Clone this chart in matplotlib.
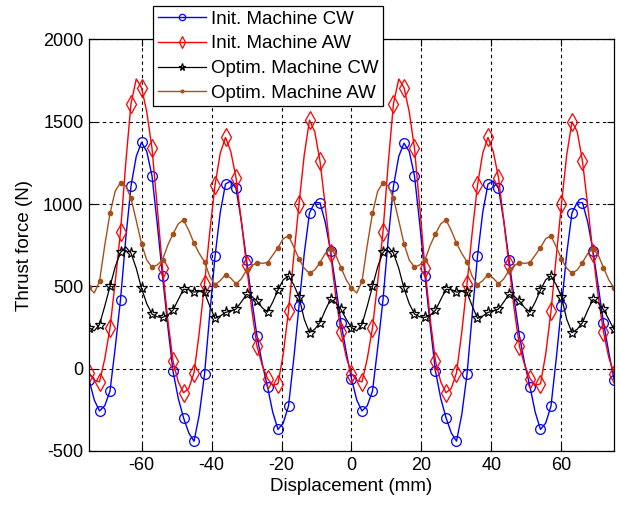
import numpy as np
import matplotlib.pyplot as plt

plt.rcParams['font.family'] = ['Liberation Sans', 'DejaVu Sans']
plt.rcParams['axes.unicode_minus'] = False

# displacement grid (mm); markers sit on every second sample (3 mm pitch)
displacement = np.linspace(-75, 75, 101)

init_cw = [
    -66, -190, -257, -225, -136, 130, 419, 790, 1110, 1290,
    1375, 1320, 1171, 880, 565, 260, -15, -180, -298, -390,
    -441, -280, -35, 330, 682, 950, 1122, 1140, 1096, 900,
    662, 420, 197, 30, -110, -265, -369, -330, -227, 60,
    379, 700, 947, 1010, 1008, 890, 717, 500, 280, 100,
    -61, -190, -257, -225, -136, 130, 419, 790, 1110, 1290,
    1370, 1320, 1171, 880, 565, 260, -15, -180, -298, -390,
    -440, -280, -35, 330, 682, 950, 1122, 1140, 1096, 900,
    662, 420, 197, 30, -110, -265, -369, -330, -227, 60,
    379, 700, 947, 1010, 1008, 890, 717, 500, 280, 100,
    -66,
]

init_aw = [
    -25, -70, -80, 60, 248, 530, 833, 1250, 1611, 1760,
    1708, 1560, 1338, 980, 611, 300, 46, -80, -146, -120,
    -25, 220, 514, 830, 1115, 1310, 1405, 1320, 1161, 900,
    631, 360, 135, 20, -60, -100, -92, 90, 350, 680,
    1001, 1300, 1510, 1440, 1260, 990, 700, 440, 223, 70,
    -30, -70, -80, 60, 248, 530, 833, 1250, 1611, 1760,
    1708, 1560, 1338, 980, 611, 300, 46, -80, -146, -120,
    -25, 220, 514, 830, 1115, 1310, 1405, 1320, 1161, 900,
    631, 360, 135, 20, -60, -100, -92, 90, 350, 680,
    1001, 1300, 1500, 1440, 1260, 990, 700, 440, 223, 70,
    -30,
]

optim_cw = [
    248, 230, 268, 380, 500, 620, 706, 740, 702, 610,
    488, 395, 332, 315, 312, 325, 355, 420, 482, 480,
    465, 470, 463, 380, 306, 320, 342, 350, 362, 405,
    451, 440, 410, 370, 344, 405, 478, 540, 564, 510,
    436, 300, 219, 240, 280, 355, 421, 400, 360, 300,
    250, 230, 268, 380, 500, 620, 706, 740, 702, 610,
    488, 395, 332, 315, 312, 325, 355, 420, 482, 480,
    465, 470, 463, 380, 306, 320, 342, 350, 362, 405,
    451, 440, 410, 370, 344, 405, 478, 540, 564, 510,
    436, 300, 219, 240, 280, 355, 421, 400, 360, 300,
    240,
]

optim_aw = [
    494, 460, 530, 750, 944, 1080, 1130, 1110, 1035, 900,
    759, 660, 617, 630, 662, 750, 819, 880, 904, 840,
    763, 700, 650, 560, 510, 535, 572, 550, 515, 545,
    598, 625, 645, 640, 645, 690, 736, 790, 807, 740,
    667, 610, 580, 600, 645, 700, 730, 690, 614, 540,
    490, 460, 530, 750, 944, 1080, 1130, 1110, 1035, 900,
    759, 660, 617, 630, 662, 750, 819, 880, 904, 840,
    763, 700, 650, 560, 510, 535, 572, 550, 515, 545,
    598, 625, 645, 640, 645, 690, 736, 790, 807, 740,
    667, 610, 580, 600, 645, 700, 730, 690, 614, 540,
    490,
]

labels = ['Init. Machine CW', 'Init. Machine AW',
          'Optim. Machine CW', 'Optim. Machine AW']
x_ticks = [-60, -40, -20, 0, 20, 40, 60]
y_ticks = [-500, 0, 500, 1000, 1500, 2000]

brown = '#a8501a'

fig = plt.figure(figsize=(6.19, 5.07), dpi=100)
ax = fig.add_axes([0.1438, 0.1105, 0.8481, 0.8116])

ax.plot(displacement, init_cw, color='b', lw=1.0, marker='o', markersize=7,
        markerfacecolor='none', markeredgewidth=0.9, markevery=2, label=labels[0])
ax.plot(displacement, init_aw, color='r', lw=1.0, marker='d', markersize=9,
        markerfacecolor='none', markeredgewidth=0.9, markevery=2, label=labels[1])
ax.plot(displacement, optim_cw, color='k', lw=0.9, marker='*', markersize=8,
        markerfacecolor='none', markeredgewidth=0.9, markevery=2, label=labels[2])
ax.plot(displacement, optim_aw, color=brown, lw=1.0, marker='.', markersize=6,
        markevery=2, label=labels[3])

ax.set_xlim(-75, 75)
ax.set_ylim(-500, 2000)
ax.set_xticks(x_ticks)
ax.set_yticks(y_ticks)
ax.tick_params(direction='in', top=True, right=True, length=5, width=0.8,
               labelsize=13, pad=4)
ax.grid(True, color='k', linestyle=(0, (3, 3)), linewidth=0.8)
for sp in ax.spines.values():
    sp.set_linewidth(0.9)

ax.set_xlabel('Displacement (mm)', fontsize=13.5, labelpad=3)
ax.set_ylabel('Thrust force (N)', fontsize=13.5, labelpad=7)

leg = ax.legend(loc='upper left', bbox_to_anchor=(0.122, 1.0814), borderaxespad=0,
                fontsize=13.5, fancybox=False, framealpha=1, edgecolor='k',
                handlelength=2.6, handletextpad=0.25, labelspacing=0.4,
                borderpad=0.25, markerscale=0.65)
leg.get_frame().set_linewidth(0.9)

fig.savefig('out.png', dpi=100)
